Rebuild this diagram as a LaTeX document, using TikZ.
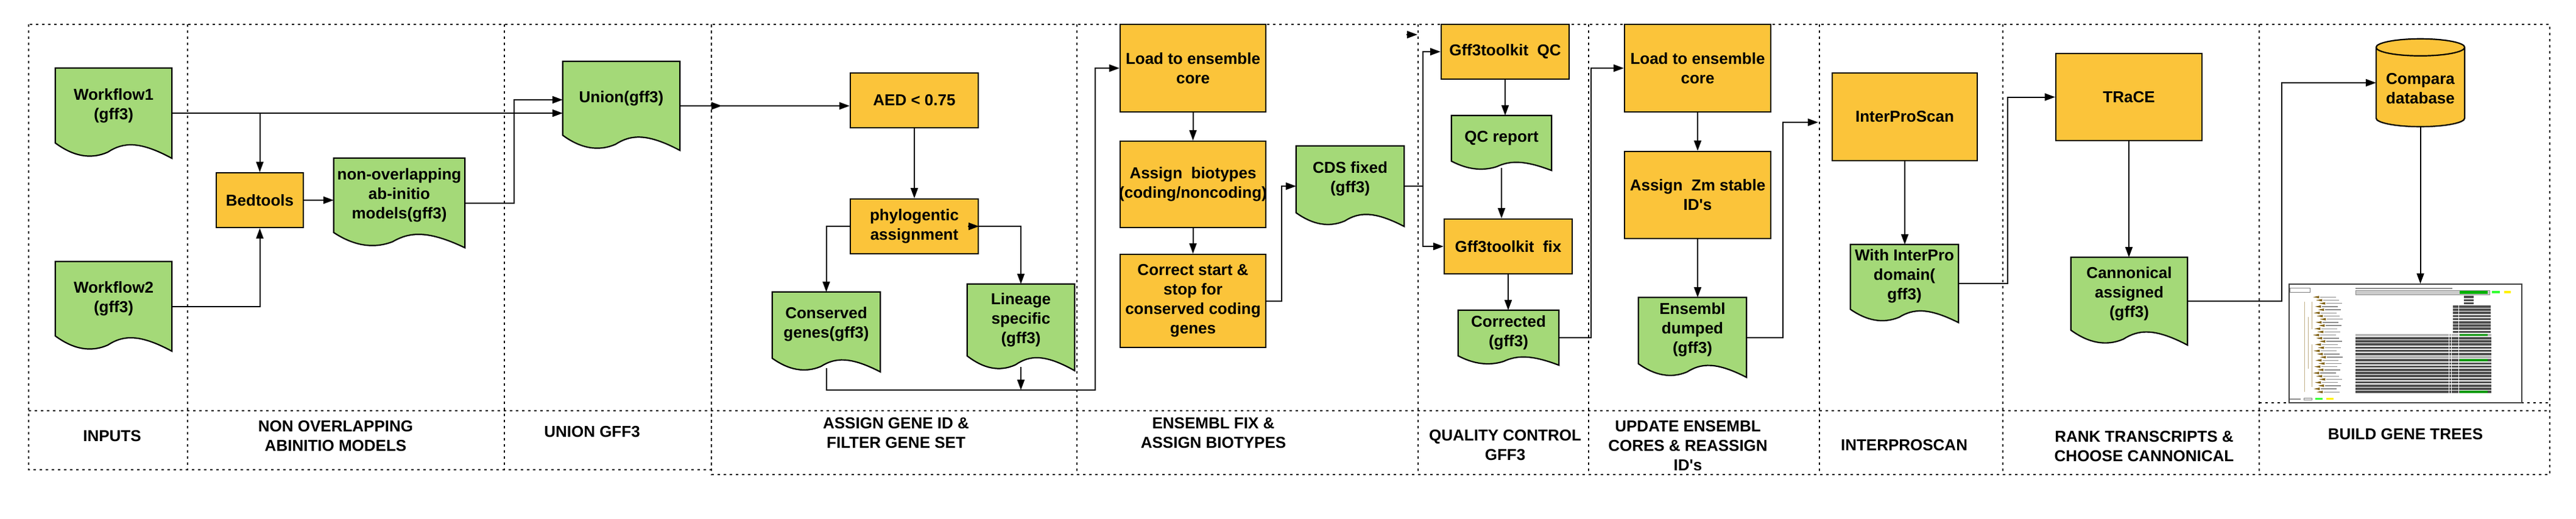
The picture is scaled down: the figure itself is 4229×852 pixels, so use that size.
\documentclass[tikz,border=0pt]{standalone}
\usepackage{fontspec}
\setmainfont{Liberation Sans}
\usetikzlibrary{arrows.meta,calc,decorations.markings}
\pgfdeclarelayer{background}
\pgfsetlayers{background,main}
\definecolor{docgreen}{RGB}{164,217,120}
\definecolor{steporange}{RGB}{251,196,58}
\definecolor{treebrown}{RGB}{128,96,16}

\tikzset{
  proc/.style={rectangle,draw=black,line width=2.2pt,fill=steporange,align=center,inner sep=2pt},
  docu/.style={rectangle,align=center,inner sep=2pt,text depth=30pt},
  docline/.style={draw=black,line width=2.2pt,fill=docgreen},
  lanes/.style={line width=1.8pt,dash pattern=on 4pt off 6pt},
}

\begin{document}
\begin{tikzpicture}[x=1pt,y=-1pt,font=\fontsize{26}{32}\selectfont\bfseries]
    \useasboundingbox (0,0) rectangle (4229,852);

    % swim lanes
    \draw[lanes] (47,40) rectangle (1168,772);
    \draw[lanes] (1168,40) rectangle (4186,780);
    \draw[lanes] (47,675) -- (4186,675);
    \foreach \x in {308,828} \draw[lanes] (\x,40) -- (\x,772);
    \foreach \x in {1768,2328,2608,2987,3288,3709} \draw[lanes] (\x,40) -- (\x,780);
    \draw[lanes] (3709,662) -- (4186,662);

    \begin{scope}[every node/.style={proc}]
      \node[minimum width=143,minimum height=90] (bed) at (426.5,329) {Bedtools};
      \node[minimum width=210,minimum height=90] (aed) at (1501,165) {AED \textless{} 0.75};
      \node[minimum width=210,minimum height=90] (phy) at (1501,372) {phylogentic\\assignment};
      \node[minimum width=239,minimum height=144] (load1) at (1958.5,112) {Load to ensemble\\core};
      \node[minimum width=239,minimum height=142] (bio) at (1958.5,303) {Assign\ \ biotypes\\\makebox[0pt]{(coding/noncoding)}};
      \node[minimum width=239,minimum height=153] (cor) at (1958.5,494.5) {Correct start \&\\stop for\\conserved coding\\genes};
      \node[minimum width=210,minimum height=90] (qc) at (2471,85) {Gff3toolkit\ \ QC};
      \node[minimum width=210,minimum height=90] (fix) at (2476,405) {Gff3toolkit\ \ fix};
      \node[minimum width=240,minimum height=144] (load2) at (2787,112) {Load to ensemble\\core};
      \node[minimum width=240,minimum height=143] (zm) at (2787,320.5) {Assign\ \ Zm stable\\ID\textquotesingle s};
      \node[minimum width=238,minimum height=144] (ips) at (3127,192) {InterProScan};
      \node[minimum width=240,minimum height=143] (trace) at (3495,159.5) {TRaCE};
    \end{scope}

    \begin{scope}[every node/.style={docu}]
      \node[minimum width=191,minimum height=148] (wf1) at (186.5,186) {Workflow1\\(gff3)};
      \node[minimum width=191,minimum height=147] (wf2) at (186.5,503.5) {Workflow2\\(gff3)};
      \node[minimum width=215,minimum height=147] (nov) at (655.5,333.5) {non-overlapping\\ab-initio\\models(gff3)};
      \node[minimum width=192,minimum height=146] (union) at (1020,174) {Union(gff3)};
      \node[minimum width=177,minimum height=131] (cons) at (1356.5,545.5) {Conserved\\genes(gff3)};
      \node[minimum width=176,minimum height=142] (lin) at (1676,538) {Lineage\\specific\\(gff3)};
      \node[minimum width=177,minimum height=132] (cds) at (2216.5,306) {CDS fixed\\(gff3)};
      \node[minimum width=164,minimum height=90,text depth=21pt] (qcr) at (2465,235) {QC report};
      \node[minimum width=165,minimum height=90,text depth=21pt] (corr) at (2476.5,555) {Corrected\\(gff3)};
      \node[minimum width=177,minimum height=131] (ens) at (2778.5,554.5) {Ensembl\\dumped\\(gff3)};
      \node[minimum width=177,minimum height=128] (wip) at (3126.5,466) {With InterPro\\domain(\\gff3)};
      \node[minimum width=191,minimum height=144] (can) at (3495.5,495) {Cannonical\\assigned\\(gff3)};
    \end{scope}

    \node[rectangle,align=center,minimum width=145,minimum height=124] (comp) at (3973.5,146) {Compara\\database};
    \node[rectangle,draw=black!75,line width=1.5pt,fill=white,minimum width=382,minimum height=195,inner sep=0pt] (shot) at (3949,564.5) {};

    \begin{pgfonlayer}{background}
      \foreach \d in {wf1,wf2,nov,union,cons,lin,cds,qcr,corr,ens,wip,can}
        \draw[docline] let \p1=(\d.north west), \p2=(\d.south east),
            \n1={0.17*(\y1-\y2)}, \n2={\x2-\x1} in
          (\p1) -- (\x2,\y1) -- (\p2)
          .. controls ({\x1+0.72*\n2},{\y2+1.15*\n1}) and ({\x1+0.58*\n2},{\y2+1.05*\n1}) .. ({\x1+0.45*\n2},{\y2+0.4*\n1})
          .. controls ({\x1+0.3*\n2},{\y2-0.1*\n1}) and ({\x1+0.15*\n2},{\y2+0.15*\n1}) .. (\x1,{\y2+\n1}) -- cycle;
      \draw[line width=2.2pt,fill=steporange] let \p1=(comp.north west), \p2=(comp.south east), \n1={(\x2-\x1)/2} in
        (\x1,{\y1+6}) -- (\x1,{\y2+14}) arc[start angle=180,end angle=360,x radius={\n1*1pt},y radius=14pt]
        -- (\x2,{\y1+6}) arc[start angle=0,end angle=180,x radius={\n1*1pt},y radius=14pt] -- cycle
        (\x1,{\y1+6}) arc[start angle=180,end angle=540,x radius={\n1*1pt},y radius=14pt];
    \end{pgfonlayer}

    % gene tree view
    \begin{scope}[shift={(shot.north west)}]
      \draw[black!50,line width=0.6pt] (2,7) rectangle (35,14);
      \fill[black!45] (110,7) rectangle (269,9);
      \draw[black!45,fill=black!20,line width=0.6pt] (110,11) rectangle (330,18);
      \fill[green!70!black] (281,12) rectangle (327,17);
      \fill[green!80] (334,12) rectangle (347,16);
      \fill[yellow] (354,12) rectangle (365,16);
      \draw[treebrown!50,line width=0.8pt] (26,30) -- (26,178) (32,55) -- (32,140) (38,30) -- (38,75) (38,100) -- (38,170);
      \foreach \i in {0,...,30} {
        \pgfmathsetmacro\yy{22+5.2*\i}
        \pgfmathsetmacro\xx{40+mod(\i*5,12)}
        \fill[treebrown] (\xx,\yy) -- ({\xx+10},{\yy-2}) -- ({\xx+10},{\yy+2}) -- cycle;
        \fill[black!45] ({\xx+12},{\yy-0.7}) rectangle ({\xx+38},{\yy+0.7});
      }
      \foreach \i in {0,1,2}
        \fill[black!70] (288,{22+5.2*\i-1.8}) rectangle (304,{22+5.2*\i+1.8});
      \foreach \i in {3,...,11}
        \fill[black!70] (270,{22+5.2*\i-1.8}) rectangle (332,{22+5.2*\i+1.8});
      \foreach \i in {12,...,30}
        \fill[black!70] (110,{22+5.2*\i-1.8}) rectangle (333,{22+5.2*\i+1.8});
      \foreach \i in {12,19}
        \fill[black!30] (110,{22+5.2*\i-1.8}) rectangle (333,{22+5.2*\i+1.8});
      \foreach \i in {12,20,30}
        \fill[green!60!black] (281,{22+5.2*\i-1.8}) rectangle (327,{22+5.2*\i+1.8});
      \foreach \x in {263,267,279}
        \draw[white,line width=0.8pt] (\x,19) -- (\x,182);
      \fill[black!45] (2,189) rectangle (20,191);
      \draw[black!50,line width=0.5pt] (25,188) rectangle (38,191);
      \fill[green!80] (44,188) rectangle (56,191);
      \fill[yellow] (62,188) rectangle (74,191);
    \end{scope}

    \begin{scope}[>={Triangle[length=17pt,width=12pt]}, line width=2pt]
      \draw[->] (wf1.east) -- (wf1.east -| union.west);
      \draw[->] (wf1.east) -| (bed.north);
      \draw[->] (wf2.east) -| (bed.south);
      \draw[->] (bed.east) -- (bed.east -| nov.west);
      \draw[->] (nov.east) -- ++(81,0) |- ([yshift=10pt]union.west);
      \draw[->,postaction={decorate},decoration={markings,mark=at position 69pt with {\arrow{>}}}]
        (union.east) -- (union.east -| aed.west);
      \draw[->] (aed.south) -- (phy.north);
      \draw[->] (phy.west) -| (cons.north);
      \draw[->] (phy.east) -| (lin.north);
      \draw[->] ([xshift=-18pt]phy.east) -- (phy.east);
      \coordinate (merge) at (1676,641);
      \draw[->] ([yshift=6pt]lin.south) -- (merge);
      \draw[->] ([yshift=6pt]cons.south) |- (merge) -| ([xshift=-40pt]load1.west) -- (load1.west);
      \draw[->] (load1) -- (bio);
      \draw[->] (bio) -- (cor);
      \draw[->] (cor.east) -- ++(25,0) |- (cds.west);
      \draw[->] (cds.east) -- ++(31,0) |- (qc.west);
      \draw[->] (cds.east) -- ++(31,0) |- (fix.west);
      \draw[->] ([xshift=-56pt,yshift=-18pt]qc.north west) -- ([xshift=-38pt,yshift=-18pt]qc.north west);
      \draw[->] (qc.south) -- (qc.south |- qcr.north);
      \draw[->] ([yshift=4pt]qcr.south) -- (qcr.south |- fix.north);
      \draw[->] (fix.south) -- (fix.south |- corr.north);
      \draw[->] (corr.east) -- ++(53,0) |- (load2.west);
      \draw[->] (load2) -- (zm);
      \draw[->] (zm.south) -- (zm.south |- ens.north);
      \draw[->,shorten >=22pt] (ens.east) -- ++(60,0) |- ([yshift=-9pt]ips.west);
      \draw[->] (ips.south) -- (ips.south |- wip.north);
      \draw[->] (wip.east) -- ++(81,0) |- (trace.west);
      \draw[->] (trace.south) -- (trace.south |- can.north);
      \draw[->] (can.east) -- ++(155,0) |- ([yshift=10pt]comp.west);
      \draw[->] (comp.south) -- (comp.south |- shot.north);
    \end{scope}

    \begin{scope}[every node/.style={align=center}]
      \node (inputs) at (184,717) {INPUTS};
      \node (nonover) at (551,717) {NON OVERLAPPING\\ABINITIO MODELS};
      \node (unionlb) at (972,710) {UNION GFF3};
      \node (assignlb) at (1471,712) {ASSIGN GENE ID \&\\FILTER GENE SET};
      \node (fixlb) at (1992,712) {ENSEMBL FIX \&\\ASSIGN BIOTYPES};
      \node (qclb) at (2471,732) {QUALITY CONTROL\\GFF3};
      \node (updlb) at (2771,733) {UPDATE ENSEMBL\\CORES \& REASSIGN\\ID\textquotesingle s};
      \node (ipslb) at (3126,732) {INTERPROSCAN};
      \node (ranklb) at (3520,734) {RANK TRANSCRIPTS \&\\CHOOSE CANNONICAL};
      \node (treelb) at (3949,714) {BUILD GENE TREES};
    \end{scope}
\end{tikzpicture}
\end{document}
